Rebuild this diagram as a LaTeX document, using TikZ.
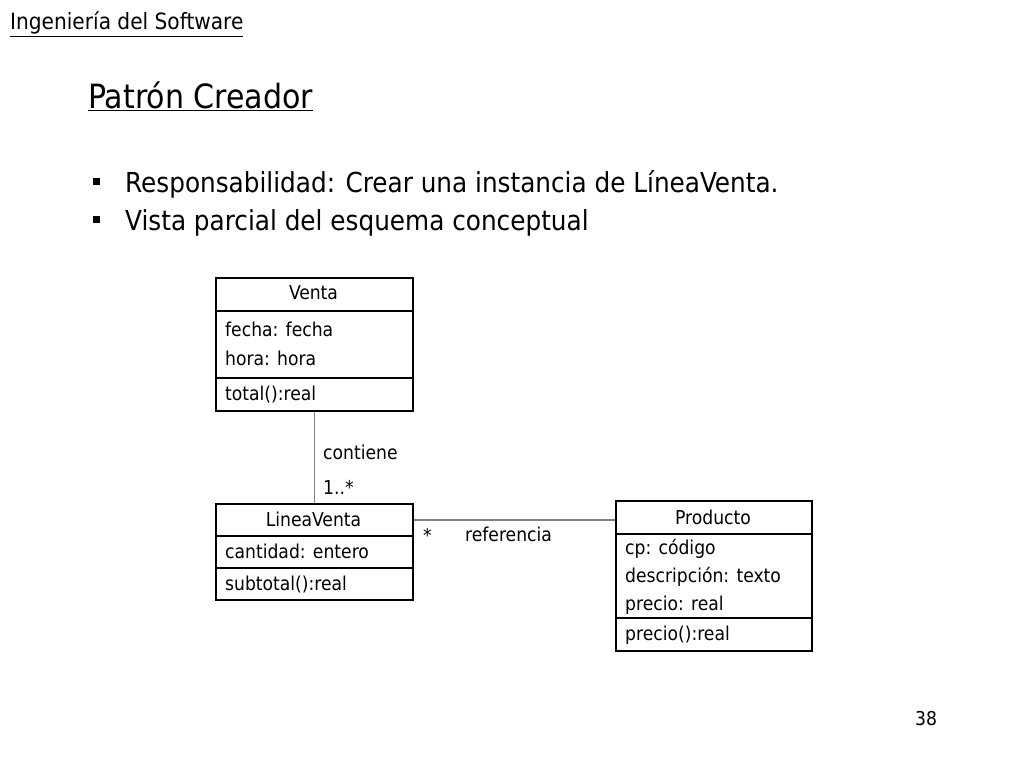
\documentclass[tikz,border=0pt]{standalone}
\usepackage{fontspec}
\setmainfont{DejaVu Sans Condensed}
\begin{document}
\begin{tikzpicture}[x=1pt,y=-1pt,
  box/.style={draw, line width=1.8pt, anchor=north west, inner sep=0pt},
  txt/.style={anchor=base west, inner sep=0pt, font=\fontsize{19.1}{21}\selectfont},
  ctxt/.style={anchor=base, inner sep=0pt, font=\fontsize{19.1}{21}\selectfont},
  conn/.style={draw=black!50, line width=1.5pt},
  bulletsq/.style={fill=black, minimum size=7pt, inner sep=0pt}]
\useasboundingbox (0,0) rectangle (1024,768);
% header
\node[anchor=base west, inner sep=0pt, font=\fontsize{22.4}{24}\selectfont] (hdr) at (10,30) {\underline{Ingeniería del Software}};
\node[anchor=base west, inner sep=0pt, font=\fontsize{33.4}{36}\selectfont] (title) at (88,108) {\underline{Patrón Creador}};
\node[bulletsq] (b1) at (96.5,181) {};
\node[bulletsq] (b2) at (96.5,219) {};
\node[anchor=base west, inner sep=0pt, font=\fontsize{27.5}{30}\selectfont] (t1) at (125,192) {Responsabilidad: Crear una instancia de LíneaVenta.};
\node[anchor=base west, inner sep=0pt, font=\fontsize{27.5}{30}\selectfont] (t2) at (125,230) {Vista parcial del esquema conceptual};
% Venta
\node[box, minimum width=197pt, minimum height=33pt] (vh) at (215,277) {};
\node[box, minimum width=197pt, minimum height=67pt] (va) at (215,310) {};
\node[box, minimum width=197pt, minimum height=33pt] (vo) at (215,377) {};
\node[ctxt] (vn) at (313.5,299) {Venta};
\node[txt] (v1) at (225,336) {fecha: fecha};
\node[txt] (v2) at (225,365) {hora: hora};
\node[txt] (v3) at (225,400) {total():real};
% LineaVenta
\node[box, minimum width=197pt, minimum height=32pt] (lh) at (215,503) {};
\node[box, minimum width=197pt, minimum height=32pt] (la) at (215,535) {};
\node[box, minimum width=197pt, minimum height=32pt] (lo) at (215,567) {};
\node[ctxt] (ln) at (313.5,526) {LineaVenta};
\node[txt] (l1) at (225,558) {cantidad: entero};
\node[txt] (l2) at (225,590) {subtotal():real};
% Producto
\node[box, minimum width=196pt, minimum height=33pt] (ph) at (615,500) {};
\node[box, minimum width=196pt, minimum height=84pt] (pa) at (615,533) {};
\node[box, minimum width=196pt, minimum height=33pt] (po) at (615,617) {};
\node[ctxt] (pn) at (713,524) {Producto};
\node[txt] (p1) at (625,554) {cp: código};
\node[txt] (p2) at (625,582) {descripción: texto};
\node[txt] (p3) at (625,610) {precio: real};
\node[txt] (p4) at (625,640) {precio():real};
% connectors
\draw[conn] (vo.south) -- (lh.north);
\draw[conn] (lh.east) -- (lh.east -| ph.west);
\node[txt] (c1) at (323,459) {contiene};
\node[txt] (c2) at (323,494) {1..*};
\node[txt] (c3) at (423,542) {*};
\node[txt] (c4) at (465,541) {referencia};
\node[txt] (pg) at (915,725) {38};
\end{tikzpicture}
\end{document}
